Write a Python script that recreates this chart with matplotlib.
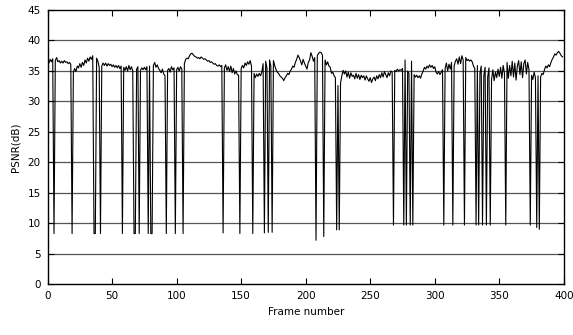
import matplotlib
matplotlib.use("Agg")
import matplotlib.pyplot as plt
import numpy as np

# PSNR per frame (frames 1..399)
psnr = [
    36.3, 36.9, 36.5, 37.0, 8.3, 36.7, 37.2, 36.5, 36.7, 36.3,
    36.6, 36.3, 36.7, 36.4, 36.5, 36.2, 36.4, 36.1, 8.3, 34.8,
    35.4, 34.9, 35.8, 35.5, 36.2, 35.6, 36.4, 35.9, 36.8, 36.3,
    37.1, 36.6, 37.3, 36.9, 37.5, 8.3, 8.3, 37.1, 36.6, 35.6,
    8.3, 35.8, 36.3, 35.9, 36.3, 35.8, 36.2, 35.9, 36.1, 35.7,
    36.0, 35.6, 35.9, 35.5, 35.9, 35.4, 35.8, 8.3, 35.6, 35.1,
    35.7, 35.0, 35.9, 35.2, 35.7, 35.0, 8.3, 8.3, 35.3, 35.7,
    8.3, 35.1, 35.5, 35.2, 35.6, 35.2, 35.7, 8.3, 35.8, 8.3,
    8.3, 35.9, 36.4, 35.6, 36.0, 35.4, 35.1, 34.7, 35.3, 34.5,
    34.2, 8.3, 35.1, 35.4, 34.8, 35.7, 35.2, 35.5, 8.3, 35.2,
    35.6, 35.0, 35.7, 35.3, 8.3, 36.2, 36.9, 37.1, 37.0, 37.5,
    37.8, 37.9, 37.6, 37.4, 37.3, 37.1, 37.2, 37.0, 37.3, 37.1,
    36.9, 37.0, 36.8, 36.6, 36.7, 36.4, 36.5, 36.3, 36.1, 36.2,
    35.9, 35.8, 36.0, 35.7, 35.9, 8.4, 35.5, 36.0, 35.1, 35.7,
    34.9, 35.8, 34.7, 35.4, 34.5, 35.0, 34.4, 34.3, 8.3, 35.4,
    35.9, 35.5, 36.3, 35.9, 36.5, 36.1, 36.7, 35.8, 8.3, 34.6,
    33.9, 34.5, 34.1, 34.6, 34.2, 34.8, 36.2, 8.4, 36.6, 35.4,
    8.5, 36.8, 35.8, 8.5, 36.7, 35.9, 35.2, 34.8, 34.6, 34.2,
    34.0, 33.8, 33.4, 33.9, 34.2, 34.6, 34.4, 35.0, 35.3, 35.8,
    35.6, 36.4, 36.9, 37.6, 37.2, 36.6, 36.0, 36.9, 36.3, 35.8,
    35.3, 36.4, 36.8, 38.0, 37.4, 36.6, 37.2, 7.2, 37.5, 37.9,
    38.1, 38.0, 37.6, 7.8, 36.8, 36.0, 36.5, 35.8, 35.6, 34.6,
    34.8, 34.2, 33.9, 8.9, 32.6, 8.9, 33.0, 34.2, 35.1, 34.5,
    35.0, 34.0, 34.8, 33.8, 34.7, 34.1, 34.3, 33.7, 34.6, 33.8,
    34.4, 33.6, 34.3, 33.9, 34.2, 33.5, 34.2, 33.7, 33.3, 33.9,
    33.1, 33.7, 34.0, 33.4, 34.2, 33.7, 34.4, 33.9, 34.7, 34.0,
    34.9, 34.4, 33.9, 34.7, 34.2, 35.0, 34.8, 9.7, 35.1, 34.9,
    35.3, 35.0, 35.2, 35.1, 35.4, 9.7, 36.8, 9.7, 35.0, 34.6,
    9.7, 36.6, 9.7, 34.4, 34.0, 34.3, 33.9, 34.2, 33.8, 34.5,
    35.0, 35.6, 35.3, 35.8, 35.5, 36.0, 35.6, 35.9, 35.4, 35.7,
    34.8, 34.5, 34.9, 34.4, 34.8, 35.2, 9.7, 35.4, 36.3, 35.0,
    36.1, 35.3, 36.4, 9.7, 35.8, 36.6, 37.0, 36.1, 37.3, 36.2,
    37.5, 36.8, 9.7, 37.2, 36.7, 36.9, 36.6, 36.8, 36.5, 35.8,
    35.4, 9.7, 35.9, 9.7, 34.6, 35.8, 9.7, 34.2, 35.6, 9.7,
    34.0, 35.5, 9.7, 33.6, 35.2, 33.4, 34.8, 33.9, 35.3, 34.1,
    35.6, 33.8, 35.9, 34.6, 9.7, 36.4, 33.8, 35.9, 34.2, 36.6,
    34.0, 36.3, 33.5, 35.8, 36.7, 34.4, 36.5, 33.9, 36.2, 36.8,
    34.5, 36.4, 35.2, 9.7, 34.3, 33.6, 34.8, 33.9, 9.3, 34.2,
    9.0, 34.0, 34.6, 34.4, 35.2, 35.8, 35.5, 36.0, 35.7, 36.4,
    36.9, 37.3, 37.8, 37.6, 38.0, 38.2, 37.9, 37.5, 37.3,
]
frames = np.arange(1, len(psnr) + 1)

x_ticks = [0, 50, 100, 150, 200, 250, 300, 350, 400]
y_ticks = [0, 5, 10, 15, 20, 25, 30, 35, 40, 45]

fig = plt.figure(figsize=(5.73, 3.35), dpi=100)
ax = fig.add_axes([0.083, 0.152, 0.901, 0.818])

#horizontal grid
for y in y_ticks[1:-1]:
    ax.axhline(y, color='#555555', linewidth=0.9, zorder=1)

ax.plot(frames, psnr, color='black', linewidth=0.8, zorder=2)

ax.set_xlim(0, 400)
ax.set_ylim(0, 45)
ax.set_xticks(x_ticks)
ax.set_yticks(y_ticks)
ax.tick_params(direction='in', top=True, right=True, length=4, width=0.8,
               labelsize=7.5, pad=5)
for s in ax.spines.values():
    s.set_linewidth(1.0)
    s.set_color('black')

ax.set_xlabel('Frame number', fontsize=7.5, labelpad=4)
ax.set_ylabel('PSNR(dB)', fontsize=7.5, labelpad=5)

plt.savefig('out.png', dpi=100)
